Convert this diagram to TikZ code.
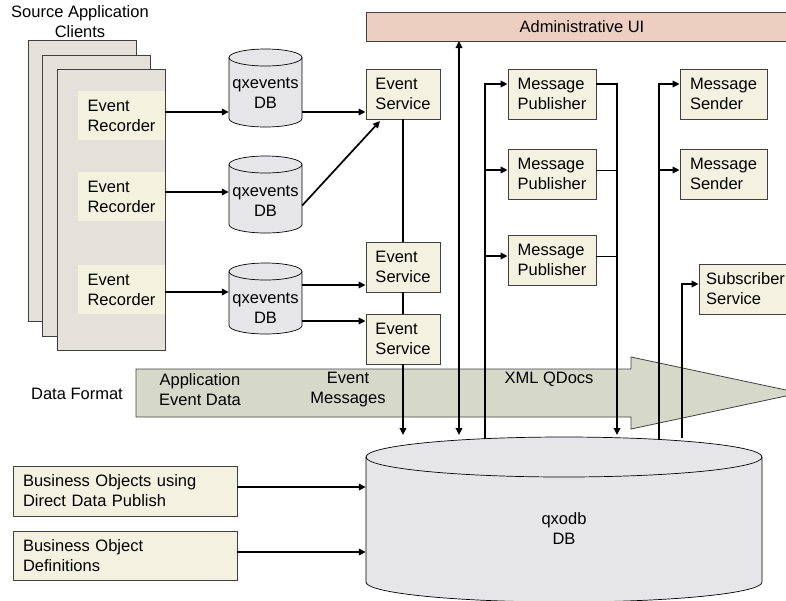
\documentclass[tikz,border=0pt]{standalone}
\usepackage{fontspec}
\setmainfont{Liberation Sans}
\usetikzlibrary{arrows.meta}
\definecolor{boxfill}{RGB}{243,242,224}
\definecolor{erfill}{RGB}{242,242,222}
\definecolor{pagefill}{RGB}{228,224,218}
\definecolor{cylfill}{RGB}{230,230,232}
\definecolor{adminfill}{RGB}{237,207,194}
\definecolor{flowfill}{RGB}{214,217,201}
\definecolor{edge}{RGB}{64,64,64}
\newcommand\dbcyl[8]{%
  \path[cylbody] (#2-#5,#3+#6) -- (#2-#5,#4-#6)
    arc[start angle=180,end angle=360,x radius=#5pt,y radius=#6pt]
    -- (#2+#5,#3+#6)
    arc[start angle=0,end angle=180,x radius=#5pt,y radius=#6pt] -- cycle;
  \draw[cylline] (#2-#5,#3+#6)
    arc[start angle=180,end angle=360,x radius=#5pt,y radius=#6pt];
  \node[cyltext,minimum width=2*#5] (#1) at (#2,#7) {#8};
}
\begin{document}
\begin{tikzpicture}[x=1pt,y=-1pt,
  every node/.style={font=\fontsize{16.5}{20}\selectfont, inner sep=0pt},
  page/.style={draw=edge, line width=0.8pt, fill=pagefill},
  recbox/.style={fill=erfill, align=left, minimum width=87, minimum height=49},
  svcbox/.style={draw=edge, line width=0.8pt, fill=boxfill, align=left, minimum height=50},
  cylbody/.style={draw=black, line width=0.7pt, fill=cylfill},
  cylline/.style={draw=black, line width=0.7pt},
  cyltext/.style={align=center},
  conn/.style={line width=1.7pt, line cap=rect},
  arr/.style={line width=1.7pt, -{Triangle[length=7pt,width=6.5pt]}},
  darr/.style={line width=1.7pt, {Triangle[length=7pt,width=6.5pt]}-{Triangle[length=7pt,width=6.5pt]}},
  thinconn/.style={line width=0.7pt},
  lbl/.style={align=center}
]
\useasboundingbox (0,0) rectangle (786,600);

% data format flow arrow
\path[draw=edge, line width=0.8pt, fill=flowfill]
  (136,369) -- (631,369) -- (631,357) -- (800,393) -- (631,429) -- (631,417) -- (136,417) -- cycle;
\node[lbl] (dflab) at (77,394) {Data Format};
\node[lbl] (t1) at (200,390) {Application\\Event Data};
\node[lbl] (t2) at (348,390) {Event\\Messages};
\node[lbl] (t3) at (549,379) {XML QDocs};

% source application clients
\node[lbl] (title) at (80,22) {Source Application\\Clients};
\node[page, minimum width=108, minimum height=281] (pg1) at (82,180.5) {};
\node[page, minimum width=108, minimum height=281] (pg2) at (96,195.5) {};
\node[page, minimum width=108, minimum height=281] (pg3) at (111,209.5) {};
\node[recbox] (er1) at (121.5,115.5) {Event\\Recorder};
\node[recbox] (er2) at (121.5,196.5) {Event\\Recorder};
\node[recbox] (er3) at (121.5,289.5) {Event\\Recorder};

% qxevents databases
\dbcyl{db1}{265.5}{49}{127}{36.5}{8.5}{93}{qxevents\\DB}
\dbcyl{db2}{265.5}{156}{233}{36.5}{8.5}{201.5}{qxevents\\DB}
\dbcyl{db3}{265.5}{263}{334}{36.5}{8.5}{308}{qxevents\\DB}

% qxodb
\dbcyl{qx}{564}{437}{602}{198}{20}{529}{qxodb\\DB}

% services
\node[svcbox, minimum width=74] (es1) at (403,94) {Event\\Service};
\node[svcbox, minimum width=74] (es2) at (403,267) {Event\\Service};
\node[svcbox, minimum width=74] (es3) at (403,339) {Event\\Service};
\node[svcbox, minimum width=432, minimum height=29, fill=adminfill, align=center] (admin) at (582,26.5) {Administrative UI};
\node[svcbox, minimum width=88] (mp1) at (552,94) {Message\\Publisher};
\node[svcbox, minimum width=88] (mp2) at (552,174) {Message\\Publisher};
\node[svcbox, minimum width=88] (mp3) at (552,260) {Message\\Publisher};
\node[svcbox, minimum width=87] (ms1) at (723.5,94) {Message\\Sender};
\node[svcbox, minimum width=87] (ms2) at (723.5,174) {Message\\Sender};
\node[svcbox, minimum width=93] (ss) at (745.5,289) {Subscriber\\Service};
\node[svcbox, minimum width=224, text width=204] (bo1) at (125,491) {Business Objects using\\Direct Data Publish};
\node[svcbox, minimum width=224, minimum height=49, text width=204] (bo2) at (125,555.5) {Business Object\\Definitions};

% row and bus coordinates
\coordinate (r112) at (0,112);
\coordinate (r192) at (0,192);
\coordinate (r292) at (0,292);
\coordinate (r285) at (0,285);
\coordinate (r321) at (0,321);
\coordinate (r84) at (0,84);
\coordinate (r170) at (0,170);
\coordinate (r256) at (0,256);
\coordinate (r284) at (0,284);
\coordinate (r487) at (0,487);
\coordinate (r552) at (0,552);
\coordinate (arrend) at (0,435);
\coordinate (uiin) at (459,41);
\coordinate (busP) at (485,438);
\coordinate (busO) at (617,435);
\coordinate (busS) at (659,439);
\coordinate (busSub) at (682,438);
\coordinate (es2diag) at (380,121);

% recorders to qxevents
\draw[arr] (er1.east |- r112) -- (db1.west |- r112);
\draw[arr] (er2.east |- r192) -- (db2.west |- r192);
\draw[arr] (er3.east |- r292) -- (db3.west |- r292);

% qxevents to event services
\draw[arr] (db1.east |- r112) -- (es1.west |- r112);
\draw[arr] ([yshift=-4pt]db2.east) -- (es2diag);
\draw[arr] (db3.east |- r285) -- (es2.west |- r285);
\draw[arr] (db3.east |- r321) -- (es3.west |- r321);

% event service chain down to qxodb
\draw[conn] (es1.south) -- (es2.north);
\draw[conn] (es2.south) -- (es3.north);
\draw[arr] (es3.south) -- (es3.south |- arrend);

% admin UI
\draw[darr] (uiin) -- (uiin |- arrend);

% publisher bus
\draw[conn] (busP) -- (busP |- r84);
\draw[arr] (busP |- r84) -- (mp1.west |- r84);
\draw[arr] (busP |- r170) -- (mp2.west |- r170);
\draw[arr] (busP |- r256) -- (mp3.west |- r256);
\draw[arr] (mp1.east |- r84) -| (busO);
\draw[thinconn] (mp2.east |- r170) -- (busO |- r170);
\draw[thinconn] (mp3.east |- r256) -- (busO |- r256);

% sender bus
\draw[conn] (busS) -- (busS |- r84);
\draw[arr] (busS |- r84) -- (ms1.west |- r84);
\draw[arr] (busS |- r170) -- (ms2.west |- r170);

% subscriber
\draw[arr] (busSub) |- (ss.west |- r284);

% business objects
\draw[arr] (bo1.east |- r487) -- (qx.west |- r487);
\draw[arr] (bo2.east |- r552) -- (qx.west |- r552);
\end{tikzpicture}
\end{document}
